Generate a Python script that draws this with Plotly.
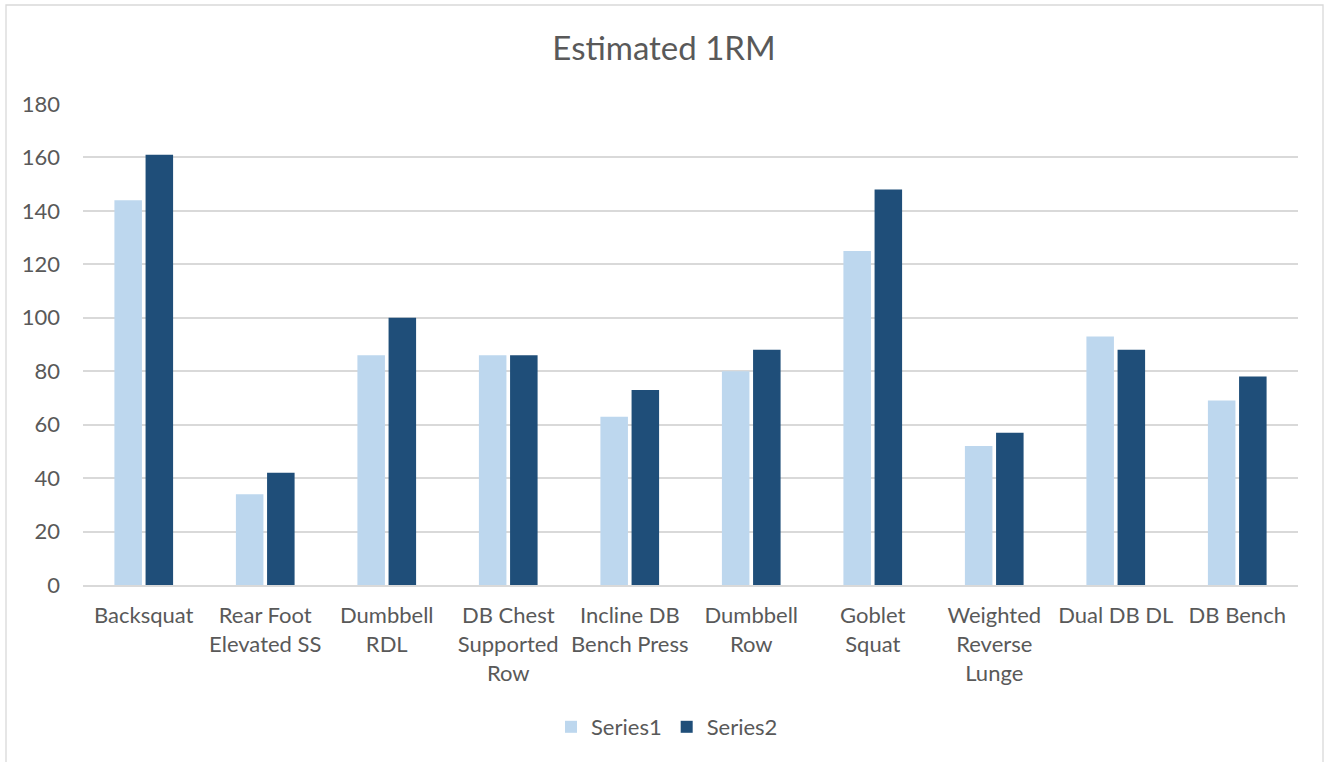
import plotly.graph_objects as go

# Exercise names and estimated one-rep maxes for the two series
exercises = [
    "Backsquat",
    "Rear Foot<br>Elevated SS",
    "Dumbbell<br>RDL",
    "DB Chest<br>Supported<br>Row",
    "Incline DB<br>Bench Press",
    "Dumbbell<br>Row",
    "Goblet<br>Squat",
    "Weighted<br>Reverse<br>Lunge",
    "Dual DB DL",
    "DB Bench",
]
series1 = [144, 34, 86, 86, 63, 80, 125, 52, 93, 69]
series2 = [161, 42, 100, 86, 73, 88, 148, 57, 88, 78]
y_ticks = [0, 20, 40, 60, 80, 100, 120, 140, 160, 180]

FONT = "Lato, Calibri, Carlito, sans-serif"
TEXT = "#595959"
GRID = "#D9D9D9"

fig = go.Figure()
fig.add_trace(go.Bar(name="Series1", x=exercises, y=series1,
                     marker=dict(color="#BDD7EE", line=dict(width=0))))
fig.add_trace(go.Bar(name="Series2", x=exercises, y=series2,
                     marker=dict(color="#1F4E79", line=dict(width=0))))

W, H = 1328, 762
L, R, T, B = 83, 30, 104, 177
pw, ph = W - L - R, H - T - B

def px_x(x):
    return (x - L) / pw

def px_y(y):
    return (H - B - y) / ph

fig.update_layout(
    width=W, height=H,
    margin=dict(l=L, r=R, t=T, b=B, autoexpand=False),
    paper_bgcolor="white", plot_bgcolor="white",
    font=dict(family=FONT, color=TEXT, size=22),
    barmode="group", bargap=0.487, bargroupgap=0.117,
    title=dict(text="Estimated 1RM", x=0.5, xanchor="center",
               y=1 - 48 / H, yanchor="middle",
               font=dict(family=FONT, size=33, color=TEXT)),
    legend=dict(orientation="h", x=px_x(667), xanchor="center",
                y=px_y(727), yanchor="middle",
                font=dict(family=FONT, size=22, color=TEXT),
                itemwidth=30, traceorder="normal"),
    xaxis=dict(showgrid=False, showline=True, linecolor=GRID, linewidth=2,
               ticks="", tickangle=0, ticklabelstandoff=10,
               tickfont=dict(family=FONT, size=22, color=TEXT)),
    yaxis=dict(range=[0, 180], tickvals=y_ticks, showgrid=True,
               gridcolor=GRID, gridwidth=1.6, zeroline=False,
               showline=False, ticks="", ticklabelstandoff=22,
               tickfont=dict(family=FONT, size=22, color=TEXT)),
    shapes=[dict(type="rect", xref="paper", yref="paper",
                 x0=px_x(6), x1=px_x(1323), y0=px_y(765), y1=px_y(5),
                 line=dict(color=GRID, width=1.3), fillcolor="rgba(0,0,0,0)",
                 layer="below")],
)

fig.write_html("out.html")
